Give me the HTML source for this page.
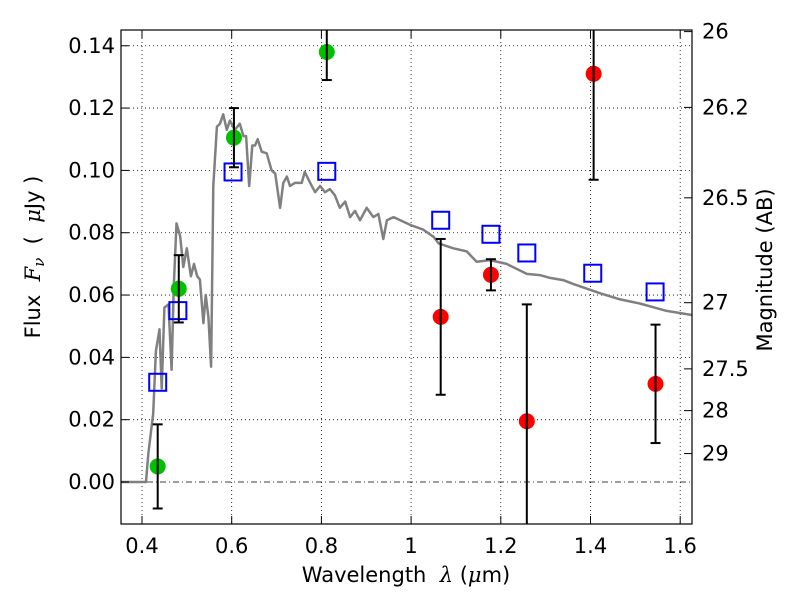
<!DOCTYPE html>
<html><head><meta charset="utf-8"><style>
body{margin:0;background:#fff}
svg text{font-family:"DejaVu Sans","Liberation Sans",sans-serif;fill:#000}
</style></head><body>
<svg id="c" width="800" height="600" xmlns="http://www.w3.org/2000/svg"></svg>
<script>
const xTicks=[0.4,0.6,0.8,1.0,1.2,1.4,1.6];
const xTickLabels=["0.4","0.6","0.8","1","1.2","1.4","1.6"];
const yTicks=[0,0.02,0.04,0.06,0.08,0.1,0.12,0.14];
const yTickLabels=["0.00","0.02","0.04","0.06","0.08","0.10","0.12","0.14"];
const magTicks=[26,26.2,26.5,27,27.5,28,29];
const magTickLabels=["26","26.2","26.5","27","27.5","28","29"];
const specX=[0.351,0.409,0.414,0.425,0.431,0.439,0.444,0.450,0.459,0.466,0.471,0.477,0.485,0.492,0.500,0.509,0.516,0.523,0.529,0.537,0.542,0.548,0.554,0.559,0.567,0.574,0.581,0.589,0.596,0.607,0.618,0.626,0.632,0.639,0.646,0.652,0.658,0.667,0.678,0.689,0.697,0.708,0.715,0.723,0.730,0.741,0.756,0.763,0.775,0.786,0.797,0.808,0.819,0.830,0.841,0.853,0.864,0.875,0.886,0.901,0.916,0.927,0.938,0.946,0.961,0.983,0.998,1.027,1.050,1.061,1.094,1.124,1.146,1.176,1.213,1.258,1.287,1.310,1.339,1.362,1.421,1.466,1.510,1.570,1.626];
const specY=[0,0,0.009,0.022,0.042,0.049,0.030,0.056,0.057,0.036,0.063,0.083,0.079,0.069,0.075,0.066,0.070,0.066,0.065,0.051,0.060,0.053,0.037,0.095,0.114,0.115,0.118,0.113,0.116,0.113,0.115,0.111,0.111,0.095,0.108,0.108,0.110,0.106,0.1055,0.100,0.099,0.088,0.096,0.098,0.095,0.096,0.096,0.0995,0.096,0.093,0.095,0.093,0.094,0.092,0.088,0.090,0.085,0.087,0.084,0.088,0.085,0.086,0.078,0.084,0.085,0.0835,0.0825,0.081,0.0787,0.0766,0.075,0.074,0.0707,0.0712,0.070,0.0668,0.0664,0.0655,0.0648,0.0635,0.0606,0.0586,0.0573,0.0549,0.0536];
const greenX=[0.435,0.482,0.605,0.812];
const greenY=[0.005,0.062,0.1105,0.138];
const greenErr=[0.0135,0.0108,0.0095,0.009];
const redX=[1.066,1.178,1.258,1.407,1.545];
const redY=[0.053,0.0665,0.0195,0.131,0.0315];
const redErr=[0.025,0.005,0.0375,0.034,0.019];
const modelX=[0.435,0.480,0.603,0.812,1.066,1.178,1.258,1.405,1.544];
const modelY=[0.032,0.055,0.0995,0.0997,0.084,0.0795,0.0735,0.067,0.061];

const L=121,R=692,T=30,B=524;
const sx=v=>142+(v-0.4)*448.5;
const sy=v=>482-v*3116;
const NS="http://www.w3.org/2000/svg";
const svg=document.getElementById('c');
function mk(t,a,p){const e=document.createElementNS(NS,t);for(const k in a)e.setAttribute(k,a[k]);(p||svg).appendChild(e);return e;}
const cp=mk('clipPath',{id:'cp'});
mk('rect',{x:L,y:T,width:R-L,height:B-T},cp);
const plot=mk('g',{'clip-path':'url(#cp)'});


xTicks.forEach(v=>{const l=mk('line',{x1:sx(v),x2:sx(v),y1:T,y2:B,stroke:'#000','stroke-width':0.8,'stroke-dasharray':'1,3'},plot);

});
yTicks.forEach(v=>{const l=mk('line',{x1:L,x2:R,y1:sy(v),y2:sy(v),stroke:'#000','stroke-width':0.8,'stroke-dasharray':v===0?'6,3,1,3':'1,3'},plot);

});
let d='';specX.forEach((x,i)=>{d+=(i?'L':'M')+sx(x).toFixed(1)+','+sy(specY[i]).toFixed(1);});
const sp=mk('path',{d:d,fill:'none',stroke:'#808080','stroke-width':2.5,'stroke-linejoin':'round'},plot);


modelX.forEach((x,i)=>{const r=mk('rect',{x:sx(x)-8.5,y:sy(modelY[i])-8.5,width:17,height:17,fill:'none',stroke:'#0000ff','stroke-width':2},plot);

});
function pts(X,Y,E,col,name){X.forEach((x,i)=>{const g=mk('g',{},plot);


const cx=sx(x),y1=sy(Y[i]+E[i]),y2=sy(Y[i]-E[i]);
mk('circle',{cx:cx,cy:sy(Y[i]),r:8,fill:col},g);
mk('line',{x1:cx,x2:cx,y1:y1,y2:y2,stroke:'#000','stroke-width':2},g);
mk('line',{x1:cx-5,x2:cx+5,y1:y1,y2:y1,stroke:'#000','stroke-width':2},g);
mk('line',{x1:cx-5,x2:cx+5,y1:y2,y2:y2,stroke:'#000','stroke-width':2},g);});}
pts(greenX,greenY,greenErr,'#00c000','green-photometry-point');
pts(redX,redY,redErr,'#ff0000','red-photometry-point');
const fr=mk('rect',{x:L,y:T,width:R-L,height:B-T,fill:'none',stroke:'#000','stroke-width':1.2});


xTicks.forEach((v,i)=>{const x=sx(v);mk('line',{x1:x,x2:x,y1:B,y2:B-8,stroke:'#000'});mk('line',{x1:x,x2:x,y1:T,y2:T+8,stroke:'#000'});
const t=mk('text',{x:x,y:B+29,'font-size':21,'text-anchor':'middle'});t.textContent=xTickLabels[i];

});
yTicks.forEach((v,i)=>{const y=sy(v);mk('line',{x1:L,x2:L+8,y1:y,y2:y,stroke:'#000'});
const t=mk('text',{x:L-6,y:y+7,'font-size':21,'text-anchor':'end'});t.textContent=yTickLabels[i];

});
magTicks.forEach((m,i)=>{const y=sy(Math.pow(10,(23.9-m)/2.5));mk('line',{x1:R,x2:R-8,y1:y,y2:y,stroke:'#000'});
const t=mk('text',{x:R+10,y:y+7,'font-size':21});t.textContent=magTickLabels[i];

});
</script>
<svg width="800" height="600" style="position:absolute;left:0;top:0" xmlns="http://www.w3.org/2000/svg">
<text x="406" y="582" font-size="21" text-anchor="middle" font-family="DejaVu Sans, sans-serif" xml:space="preserve">Wavelength  <tspan font-style="italic" font-family="DejaVu Serif, serif">λ</tspan> (<tspan font-style="italic" font-family="DejaVu Serif, serif">μ</tspan>m)</text>
<text transform="translate(40,257) rotate(-90)" font-size="21" text-anchor="middle" font-family="DejaVu Sans, sans-serif" xml:space="preserve">Flux  <tspan font-style="italic" font-family="DejaVu Serif, serif">F<tspan font-size="15" dy="4">ν</tspan></tspan><tspan dy="-4">  (  </tspan><tspan font-style="italic" font-family="DejaVu Serif, serif">μ</tspan>Jy )</text>
<text transform="translate(772,270) rotate(-90)" font-size="21" text-anchor="middle" font-family="DejaVu Sans, sans-serif">Magnitude (AB)</text>
</svg>
</body></html>
